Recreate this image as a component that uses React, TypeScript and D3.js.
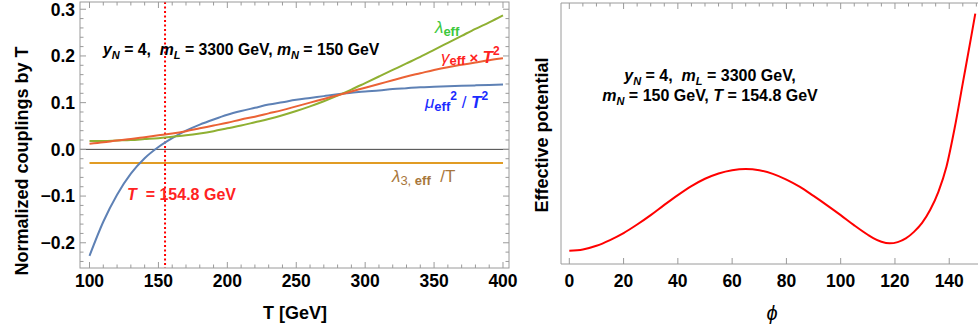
import React from 'react';
import * as d3 from 'd3';

// left panel: normalized couplings vs T
const temps = [100, 110, 120, 130, 140, 150, 160, 170, 180, 190, 200, 210, 220, 230, 240, 250, 260, 270, 280, 290, 300, 310, 320, 330, 340, 350, 360, 370, 380, 390, 400];
const muOverT2 = [-0.228, -0.155, -0.097, -0.052, -0.019, 0.005, 0.024, 0.040, 0.053, 0.064, 0.074, 0.082, 0.089, 0.096, 0.101, 0.106, 0.110, 0.114, 0.118, 0.121, 0.124, 0.126, 0.129, 0.131, 0.133, 0.134, 0.135, 0.136, 0.137, 0.138, 0.139];
const lambdaEff = [0.018, 0.018, 0.019, 0.020, 0.022, 0.024, 0.027, 0.030, 0.034, 0.039, 0.045, 0.051, 0.058, 0.065, 0.073, 0.082, 0.092, 0.103, 0.115, 0.128, 0.142, 0.156, 0.170, 0.184, 0.198, 0.213, 0.228, 0.243, 0.258, 0.272, 0.287];
const gammaT2 = [0.012, 0.015, 0.019, 0.022, 0.026, 0.030, 0.034, 0.039, 0.045, 0.051, 0.057, 0.064, 0.070, 0.077, 0.084, 0.092, 0.100, 0.108, 0.116, 0.124, 0.132, 0.140, 0.148, 0.156, 0.163, 0.170, 0.176, 0.181, 0.186, 0.191, 0.195];
const lambda3OverT = -0.029;
const tCrit = 154.8;
const tTicks = [100, 150, 200, 250, 300, 350, 400];
const couplingTicks = [-0.2, -0.1, 0.0, 0.1, 0.2, 0.3];

// right panel: effective potential vs phi (arbitrary units, barrier = 1)
const phis = [0, 5, 10, 15, 20, 25, 30, 35, 40, 45, 50, 55, 60, 65, 70, 75, 80, 85, 90, 95, 100, 105, 110, 112, 115, 118, 121, 124, 127, 130, 133, 136, 139, 142, 145, 148, 149.6];
const potential = [0, 0.015, 0.06, 0.13, 0.215, 0.32, 0.435, 0.56, 0.68, 0.79, 0.88, 0.945, 0.985, 1.0, 0.985, 0.94, 0.87, 0.78, 0.67, 0.555, 0.435, 0.31, 0.195, 0.155, 0.11, 0.09, 0.105, 0.15, 0.23, 0.34, 0.5, 0.72, 1.03, 1.5, 2.05, 2.6, 2.9];
const phiTicks = [0, 20, 40, 60, 80, 100, 120, 140];

const FONT = '"Liberation Sans", Arial, sans-serif';
const FRAME = '#9a9a9a';
const C_BLUE = '#5E81B5';
const C_ORANGE = '#E19C24';
const C_GREEN = '#8FB032';
const C_RED = '#EB6235';

const App = () => {
  // left panel scales
  const L = { left: 80, right: 509, top: 2, bottom: 268 };
  const x = d3.scaleLinear().domain([93.1, 404.36]).range([L.left, L.right]);
  const y = d3.scaleLinear().domain([-0.254, 0.3155]).range([L.bottom, L.top]);

  const line = (vals: number[]) =>
    d3.line<number>()
      .x((_, i) => x(temps[i]))
      .y(d => y(d))
      .curve(d3.curveMonotoneX)(vals) || '';

  const xMinor = d3.range(100, 401, 10).filter(v => v % 50 !== 0);
  const yMinor = d3.range(-24, 31, 2).map(v => v / 100).filter(v => Math.abs(Math.round(v * 100)) % 10 !== 0);

  // right panel scales
  const R = { left: 561, right: 978, top: 3, bottom: 264 };
  const px = d3.scaleLinear().domain([-3.06, 150.6]).range([R.left, R.right]);
  const py = d3.scaleLinear().domain([-0.163, 3.03]).range([R.bottom, R.top]);
  const potPath = d3.line<number>()
    .x((_, i) => px(phis[i]))
    .y(d => py(d))
    .curve(d3.curveMonotoneX)(potential) || '';
  const phiMinor = d3.range(0, 151, 5).filter(v => v % 20 !== 0);

  const sub = 11;

  return (
    <svg width={979} height={329} style={{ position: 'absolute', left: 0, top: 0, fontFamily: FONT }}>
      <rect width={979} height={329} fill="#fff" />

      {/* ---------- left panel ---------- */}
      <line x1={L.left} x2={L.right} y1={y(0)} y2={y(0)} stroke="#444" strokeWidth={1} />
      <line x1={x(tCrit)} x2={x(tCrit)} y1={L.top} y2={L.bottom} stroke="#f00" strokeWidth={2} strokeDasharray="2 2.5" />
      <line x1={x(100)} x2={x(400)} y1={y(lambda3OverT)} y2={y(lambda3OverT)} stroke={C_ORANGE} strokeWidth={2} />
      <path d={line(muOverT2)} fill="none" stroke={C_BLUE} strokeWidth={2} />
      <path d={line(lambdaEff)} fill="none" stroke={C_GREEN} strokeWidth={2} />
      <path d={line(gammaT2)} fill="none" stroke={C_RED} strokeWidth={2} />

      <rect x={L.left} y={L.top} width={L.right - L.left} height={L.bottom - L.top} fill="none" stroke={FRAME} strokeWidth={1} />
      <g stroke={FRAME} strokeWidth={1}>
        {tTicks.map(t => (
          <g key={'tx' + t}>
            <line x1={x(t)} x2={x(t)} y1={L.bottom} y2={L.bottom - 6} />
            <line x1={x(t)} x2={x(t)} y1={L.top} y2={L.top + 6} />
          </g>
        ))}
        {xMinor.map(t => (
          <g key={'mx' + t}>
            <line x1={x(t)} x2={x(t)} y1={L.bottom} y2={L.bottom - 3.5} />
            <line x1={x(t)} x2={x(t)} y1={L.top} y2={L.top + 3.5} />
          </g>
        ))}
        {couplingTicks.map(v => (
          <g key={'ty' + v}>
            <line x1={L.left} x2={L.left + 6} y1={y(v)} y2={y(v)} />
            <line x1={L.right} x2={L.right - 6} y1={y(v)} y2={y(v)} />
          </g>
        ))}
        {yMinor.map(v => (
          <g key={'my' + v}>
            <line x1={L.left} x2={L.left + 3.5} y1={y(v)} y2={y(v)} />
            <line x1={L.right} x2={L.right - 3.5} y1={y(v)} y2={y(v)} />
          </g>
        ))}
      </g>
      <g fontSize={17.5} fontWeight="bold" fill="#000">
        {tTicks.map(t => (
          <text key={'lx' + t} x={x(t)} y={287} textAnchor="middle">{t}</text>
        ))}
        {couplingTicks.map(v => (
          <text key={'ly' + v} x={75} y={y(v) + 6.3} textAnchor="end">{v < 0 ? '\u2212' + Math.abs(v).toFixed(1) : v.toFixed(1)}</text>
        ))}
      </g>
      <text x={295} y={319} fontSize={18} fontWeight="bold" textAnchor="middle">T [GeV]</text>
      <text transform="translate(28,161) rotate(-90)" fontSize={18} fontWeight="bold" textAnchor="middle">Normalized couplings by T</text>

      <text x={103} y={55} fontSize={15.8} fontWeight="bold" style={{ whiteSpace: 'pre' }}>
        <tspan fontStyle="italic">y</tspan><tspan dy={4} fontSize={sub} fontStyle="italic">N</tspan>
        <tspan dy={-4}>{' = 4,  '}</tspan><tspan fontStyle="italic">m</tspan><tspan dy={4} fontSize={sub} fontStyle="italic">L</tspan>
        <tspan dy={-4}>{' = 3300 GeV, '}</tspan><tspan fontStyle="italic">m</tspan><tspan dy={4} fontSize={sub} fontStyle="italic">N</tspan>
        <tspan dy={-4}>{' = 150 GeV'}</tspan>
      </text>

      <text x={435} y={33} fontSize={17} fill="#3cc83c" style={{ whiteSpace: 'pre' }}>
        <tspan fontStyle="italic">λ</tspan><tspan dy={3} fontSize={13} fontWeight="bold">eff</tspan>
      </text>
      <text x={441} y={63} fontSize={17} fill="#f22" fontWeight="bold" style={{ whiteSpace: 'pre' }}>
        <tspan fontStyle="italic" fontWeight="normal">γ</tspan><tspan dy={2} fontSize={13}>eff</tspan><tspan dy={-2} fontSize={15}>{' × '}</tspan>
        <tspan fontStyle="italic">T</tspan><tspan dy={-8} fontSize={12}>2</tspan>
      </text>
      <text x={425} y={108} fontSize={17} fill="#1a2bff" fontWeight="bold" style={{ whiteSpace: 'pre' }}>
        <tspan fontStyle="italic" fontWeight="normal">μ</tspan><tspan dy={3} fontSize={13}>eff</tspan><tspan dy={-11} fontSize={12}>2</tspan>
        <tspan dy={8} fontSize={17} fontWeight="normal">{' / '}</tspan><tspan fontStyle="italic">T</tspan><tspan dy={-8} fontSize={12}>2</tspan>
      </text>
      <text x={392} y={182} fontSize={17} fill="#a8773c" style={{ whiteSpace: 'pre' }}>
        <tspan fontStyle="italic">λ</tspan><tspan dy={3} fontSize={13}>3, </tspan><tspan fontSize={13} fontWeight="bold">eff</tspan>
        <tspan dy={-3} fontSize={17}>{'  /T'}</tspan>
      </text>
      <text x={127} y={200} fontSize={16} fill="#f22" fontWeight="bold" style={{ whiteSpace: 'pre' }}>
        <tspan fontStyle="italic">T</tspan><tspan>{'  = 154.8 GeV'}</tspan>
      </text>

      {/* ---------- right panel ---------- */}
      <path d={potPath} fill="none" stroke="#f00" strokeWidth={2} />
      <g stroke={FRAME} strokeWidth={1} fill="none">
        <line x1={R.left} x2={R.right} y1={R.top} y2={R.top} />
        <line x1={R.left} x2={R.right} y1={R.bottom} y2={R.bottom} />
        <line x1={R.left} x2={R.left} y1={R.top} y2={R.bottom} />
        {phiTicks.map(p => (
          <g key={'pt' + p}>
            <line x1={px(p)} x2={px(p)} y1={R.bottom} y2={R.bottom - 6} />
            <line x1={px(p)} x2={px(p)} y1={R.top} y2={R.top + 6} />
          </g>
        ))}
        {phiMinor.map(p => (
          <line key={'pm' + p} x1={px(p)} x2={px(p)} y1={R.top} y2={R.top + 3.5} />
        ))}
      </g>
      <g fontSize={17.5} fontWeight="bold">
        {phiTicks.map(p => (
          <text key={'pl' + p} x={px(p)} y={287} textAnchor="middle">{p}</text>
        ))}
      </g>
      <text x={772} y={320} fontSize={20} fontStyle="italic" textAnchor="middle">ϕ</text>
      <text transform="translate(548,135) rotate(-90)" fontSize={18} fontWeight="bold" textAnchor="middle">Effective potential</text>
      <text x={710} y={81} fontSize={16} fontWeight="bold" textAnchor="middle" style={{ whiteSpace: 'pre' }}>
        <tspan fontStyle="italic">y</tspan><tspan dy={4} fontSize={sub} fontStyle="italic">N</tspan>
        <tspan dy={-4}>{' = 4,  '}</tspan><tspan fontStyle="italic">m</tspan><tspan dy={4} fontSize={sub} fontStyle="italic">L</tspan>
        <tspan dy={-4}>{' = 3300 GeV,'}</tspan>
      </text>
      <text x={710} y={101} fontSize={16} fontWeight="bold" textAnchor="middle" style={{ whiteSpace: 'pre' }}>
        <tspan fontStyle="italic">m</tspan><tspan dy={4} fontSize={sub} fontStyle="italic">N</tspan>
        <tspan dy={-4}>{' = 150 GeV, '}</tspan><tspan fontStyle="italic">T</tspan><tspan>{' = 154.8 GeV'}</tspan>
      </text>
    </svg>
  );
};

export default App;
